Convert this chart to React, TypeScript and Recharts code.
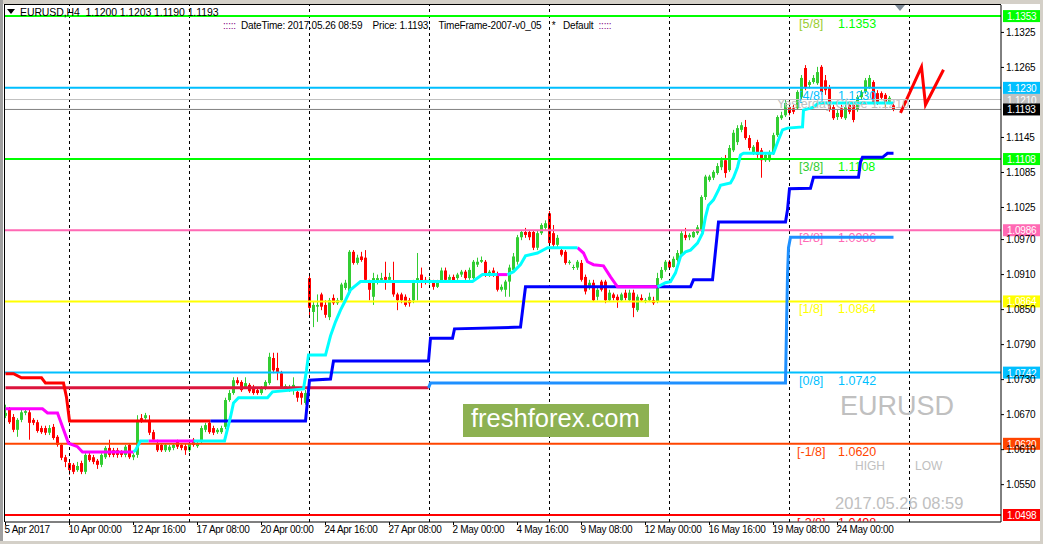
import React from 'react';
import { ComposedChart, Bar, Line, XAxis, YAxis, ReferenceLine } from 'recharts';

const FONT = '"Liberation Sans", Arial, sans-serif';

// H4 candles, EURUSD, 5 Apr 2017 08:00 .. 26 May 2017 08:00 : [open, high, low, close]
const ohlc: number[][] = [
  [1.0668,1.0687,1.0664,1.0673],[1.0678,1.0683,1.0654,1.0657],[1.0666,1.0671,1.0640,1.0644],[1.0644,1.0664,1.0632,1.0661],
  [1.0661,1.0678,1.0657,1.0674],[1.0673,1.0680,1.0669,1.0676],[1.0674,1.0678,1.0627,1.0656],[1.0661,1.0664,1.0652,1.0656],
  [1.0657,1.0661,1.0639,1.0642],[1.0647,1.0651,1.0637,1.0640],[1.0647,1.0651,1.0635,1.0639],[1.0639,1.0652,1.0635,1.0647],
  [1.0649,1.0654,1.0627,1.0630],[1.0632,1.0635,1.0615,1.0618],[1.0618,1.0621,1.0592,1.0596],[1.0597,1.0601,1.0580,1.0589],
  [1.0587,1.0591,1.0567,1.0575],[1.0584,1.0587,1.0568,1.0572],[1.0575,1.0589,1.0572,1.0582],[1.0587,1.0591,1.0568,1.0572],
  [1.0572,1.0604,1.0568,1.0601],[1.0601,1.0606,1.0589,1.0592],[1.0597,1.0601,1.0585,1.0589],[1.0591,1.0594,1.0577,1.0584],
  [1.0584,1.0604,1.0580,1.0601],[1.0597,1.0616,1.0594,1.0613],[1.0613,1.0627,1.0597,1.0601],[1.0609,1.0613,1.0597,1.0601],
  [1.0609,1.0613,1.0596,1.0601],[1.0606,1.0609,1.0597,1.0601],[1.0601,1.0618,1.0597,1.0615],[1.0618,1.0621,1.0594,1.0597],
  [1.0597,1.0604,1.0592,1.0601],[1.0601,1.0669,1.0596,1.0661],[1.0664,1.0671,1.0656,1.0659],[1.0664,1.0673,1.0661,1.0669],
  [1.0661,1.0669,1.0635,1.0639],[1.0640,1.0644,1.0623,1.0627],[1.0621,1.0627,1.0606,1.0609],[1.0618,1.0621,1.0606,1.0609],
  [1.0609,1.0621,1.0606,1.0618],[1.0609,1.0618,1.0606,1.0615],[1.0613,1.0621,1.0609,1.0618],[1.0623,1.0627,1.0611,1.0615],
  [1.0618,1.0621,1.0609,1.0613],[1.0616,1.0620,1.0601,1.0609],[1.0609,1.0627,1.0606,1.0621],[1.0627,1.0630,1.0615,1.0618],
  [1.0616,1.0625,1.0613,1.0621],[1.0623,1.0651,1.0620,1.0647],[1.0644,1.0656,1.0640,1.0652],[1.0656,1.0659,1.0637,1.0640],
  [1.0647,1.0651,1.0635,1.0639],[1.0640,1.0647,1.0637,1.0644],[1.0640,1.0651,1.0637,1.0647],[1.0649,1.0699,1.0645,1.0695],
  [1.0695,1.0712,1.0692,1.0707],[1.0707,1.0734,1.0704,1.0729],[1.0729,1.0734,1.0721,1.0724],[1.0726,1.0729,1.0709,1.0712],
  [1.0717,1.0734,1.0714,1.0724],[1.0721,1.0724,1.0707,1.0710],[1.0717,1.0721,1.0704,1.0707],[1.0712,1.0716,1.0704,1.0707],
  [1.0707,1.0719,1.0704,1.0716],[1.0716,1.0729,1.0712,1.0726],[1.0724,1.0776,1.0721,1.0769],[1.0767,1.0776,1.0741,1.0746],
  [1.0750,1.0776,1.0729,1.0743],[1.0741,1.0745,1.0714,1.0717],[1.0717,1.0722,1.0714,1.0719],[1.0712,1.0721,1.0709,1.0717],
  [1.0712,1.0734,1.0704,1.0721],[1.0709,1.0712,1.0692,1.0699],[1.0707,1.0710,1.0687,1.0699],[1.0690,1.0712,1.0687,1.0707],
  [1.0904,1.0910,1.0836,1.0853],[1.0846,1.0863,1.0820,1.0858],[1.0855,1.0876,1.0829,1.0858],[1.0876,1.0879,1.0849,1.0855],
  [1.0858,1.0866,1.0836,1.0841],[1.0837,1.0870,1.0832,1.0866],[1.0870,1.0876,1.0858,1.0861],[1.0861,1.0870,1.0858,1.0866],
  [1.0866,1.0896,1.0863,1.0893],[1.0887,1.0901,1.0884,1.0896],[1.0879,1.0952,1.0876,1.0949],[1.0949,1.0952,1.0927,1.0930],
  [1.0930,1.0944,1.0927,1.0939],[1.0941,1.0949,1.0932,1.0935],[1.0939,1.0952,1.0898,1.0901],[1.0898,1.0901,1.0866,1.0884],
  [1.0872,1.0913,1.0858,1.0904],[1.0898,1.0910,1.0893,1.0904],[1.0901,1.0913,1.0898,1.0904],[1.0906,1.0932,1.0884,1.0901],
  [1.0901,1.0913,1.0896,1.0906],[1.0898,1.0932,1.0872,1.0876],[1.0876,1.0879,1.0849,1.0866],[1.0876,1.0879,1.0861,1.0866],
  [1.0872,1.0876,1.0855,1.0858],[1.0866,1.0870,1.0855,1.0861],[1.0866,1.0901,1.0861,1.0898],[1.0898,1.0947,1.0866,1.0904],
  [1.0910,1.0922,1.0887,1.0896],[1.0901,1.0906,1.0893,1.0896],[1.0896,1.0906,1.0893,1.0901],[1.0896,1.0901,1.0884,1.0889],
  [1.0889,1.0901,1.0887,1.0896],[1.0898,1.0922,1.0896,1.0917],[1.0917,1.0922,1.0898,1.0901],[1.0901,1.0910,1.0898,1.0906],
  [1.0906,1.0910,1.0896,1.0898],[1.0904,1.0913,1.0901,1.0910],[1.0910,1.0918,1.0906,1.0915],[1.0915,1.0918,1.0901,1.0904],
  [1.0904,1.0922,1.0901,1.0918],[1.0904,1.0935,1.0901,1.0932],[1.0927,1.0939,1.0923,1.0932],[1.0932,1.0941,1.0930,1.0935],
  [1.0932,1.0935,1.0906,1.0910],[1.0910,1.0918,1.0906,1.0915],[1.0917,1.0922,1.0906,1.0913],[1.0910,1.0915,1.0881,1.0884],
  [1.0884,1.0893,1.0881,1.0889],[1.0884,1.0901,1.0872,1.0898],[1.0898,1.0927,1.0872,1.0922],[1.0918,1.0947,1.0915,1.0941],
  [1.0932,1.0978,1.0927,1.0974],[1.0974,1.0986,1.0969,1.0983],[1.0983,1.0990,1.0973,1.0978],[1.0983,1.0986,1.0969,1.0974],
  [1.0983,1.0986,1.0952,1.0956],[1.0956,1.0986,1.0952,1.0981],[1.0981,1.0998,1.0978,1.0995],[1.0990,1.1003,1.0986,1.0998],
  [1.1015,1.1019,1.0961,1.0964],[1.0981,1.0995,1.0956,1.0961],[1.0961,1.0978,1.0956,1.0973],[1.0952,1.0956,1.0941,1.0944],
  [1.0949,1.0952,1.0927,1.0930],[1.0930,1.0935,1.0927,1.0932],[1.0922,1.0927,1.0918,1.0923],[1.0922,1.0935,1.0918,1.0932],
  [1.0930,1.0935,1.0898,1.0901],[1.0906,1.0910,1.0876,1.0881],[1.0889,1.0901,1.0884,1.0896],[1.0896,1.0901,1.0863,1.0866],
  [1.0872,1.0887,1.0866,1.0884],[1.0898,1.0901,1.0881,1.0884],[1.0898,1.0901,1.0861,1.0866],[1.0866,1.0884,1.0863,1.0879],
  [1.0876,1.0879,1.0866,1.0870],[1.0872,1.0876,1.0853,1.0866],[1.0866,1.0879,1.0863,1.0876],[1.0879,1.0884,1.0866,1.0870],
  [1.0866,1.0884,1.0863,1.0879],[1.0879,1.0884,1.0837,1.0853],[1.0849,1.0876,1.0846,1.0872],[1.0870,1.0876,1.0863,1.0866],
  [1.0863,1.0870,1.0861,1.0866],[1.0866,1.0879,1.0863,1.0872],[1.0866,1.0872,1.0858,1.0861],[1.0863,1.0913,1.0861,1.0904],
  [1.0904,1.0923,1.0901,1.0918],[1.0918,1.0935,1.0915,1.0932],[1.0932,1.0935,1.0918,1.0922],[1.0923,1.0941,1.0922,1.0937],
  [1.0935,1.0952,1.0932,1.0947],[1.0944,1.0986,1.0941,1.0981],[1.0978,1.0990,1.0969,1.0973],[1.0974,1.0981,1.0969,1.0978],
  [1.0974,1.0986,1.0973,1.0983],[1.0981,1.0995,1.0978,1.0991],[1.0986,1.1046,1.0983,1.1043],[1.1043,1.1081,1.1038,1.1078],
  [1.1072,1.1081,1.1069,1.1078],[1.1076,1.1089,1.1072,1.1086],[1.1084,1.1101,1.1081,1.1096],[1.1094,1.1111,1.1089,1.1106],
  [1.1106,1.1115,1.1076,1.1084],[1.1089,1.1132,1.1086,1.1127],[1.1123,1.1158,1.1120,1.1153],[1.1137,1.1166,1.1132,1.1161],
  [1.1158,1.1171,1.1154,1.1166],[1.1163,1.1175,1.1141,1.1144],[1.1144,1.1149,1.1123,1.1127],[1.1118,1.1132,1.1115,1.1129],
  [1.1137,1.1141,1.1110,1.1115],[1.1123,1.1127,1.1076,1.1106],[1.1106,1.1120,1.1103,1.1115],[1.1106,1.1123,1.1103,1.1120],
  [1.1118,1.1153,1.1115,1.1149],[1.1149,1.1183,1.1146,1.1180],[1.1178,1.1189,1.1175,1.1183],[1.1183,1.1209,1.1180,1.1204],
  [1.1197,1.1204,1.1183,1.1187],[1.1195,1.1201,1.1185,1.1189],[1.1195,1.1226,1.1192,1.1223],[1.1214,1.1252,1.1211,1.1247],
  [1.1264,1.1269,1.1226,1.1231],[1.1235,1.1243,1.1229,1.1240],[1.1240,1.1252,1.1237,1.1247],[1.1238,1.1266,1.1235,1.1257],
  [1.1266,1.1269,1.1218,1.1223],[1.1243,1.1252,1.1218,1.1226],[1.1231,1.1235,1.1189,1.1192],[1.1197,1.1201,1.1175,1.1178],
  [1.1180,1.1192,1.1175,1.1187],[1.1195,1.1201,1.1177,1.1180],[1.1178,1.1201,1.1175,1.1197],[1.1201,1.1206,1.1185,1.1189],
  [1.1201,1.1204,1.1171,1.1175],[1.1192,1.1218,1.1189,1.1214],[1.1214,1.1226,1.1211,1.1223],[1.1223,1.1247,1.1220,1.1243],
  [1.1231,1.1252,1.1228,1.1247],[1.1240,1.1243,1.1202,1.1206],[1.1221,1.1226,1.1201,1.1206],[1.1221,1.1224,1.1209,1.1213],
  [1.1218,1.1221,1.1195,1.1206],[1.1206,1.1216,1.1202,1.1213],[1.1200,1.1203,1.1190,1.1193],
];

// time axis (bar index -> label)
const timeTickIdx = [0, 16, 32, 48, 64, 80, 96, 112, 128, 144, 160, 176, 192, 208];
const timeTickLabels = ['5 Apr 2017', '10 Apr 00:00', '12 Apr 16:00', '17 Apr 08:00', '20 Apr 00:00', '24 Apr 16:00',
  '27 Apr 08:00', '2 May 00:00', '4 May 16:00', '9 May 08:00', '12 May 00:00', '16 May 16:00', '19 May 08:00', '24 May 00:00'];
// Monday 00:00 bars (dashed grid)
const weekStartIdx = [16, 46, 76, 106, 136, 166, 196, 226];

const priceTicks = [1.1325, 1.1265, 1.1145, 1.1085, 1.1025, 1.0970, 1.0910, 1.0850, 1.0790, 1.0730, 1.0670, 1.0610, 1.0550];

// Murrey math levels
const murreyValues = [1.1353, 1.1230, 1.1108, 1.0986, 1.0864, 1.0742, 1.0620, 1.0498];
const murreyNames = ['[5/8]', '[4/8]', '[3/8]', '[2/8]', '[1/8]', '[0/8]', '[-1/8]', '[-2/8]'];
const murreyColors = ['#00ff00', '#00bfff', '#00ff00', '#ff69b4', '#ffff00', '#00bfff', '#ff4500', '#ff0000'];
const murreyNameColors = ['#9acd32', '#00bfff', '#32cd32', '#ff69b4', '#ffff00', '#00bfff', '#ff4500', '#ff0000'];

const yesterdayClose = 1.1210;
const bidPrice = 1.1193;

// indicator step lines: [bar index, price]
const redStep = [[0, 1.0740], [2, 1.0740], [4, 1.0733], [9, 1.0733], [10, 1.0724], [14.5, 1.0724], [15.25, 1.0700], [16, 1.0659], [51.25, 1.0659]];
const blueStep = [[51.25, 1.0659], [75, 1.0659], [76, 1.0729], [81.25, 1.0731], [82, 1.0762], [105.75, 1.0762], [106.25, 1.0801],
  [111.75, 1.0801], [112.25, 1.0817], [128.75, 1.0820], [130, 1.0889], [171.25, 1.0889], [172, 1.0901], [176.75, 1.0901],
  [178.25, 1.1000], [195, 1.1000], [195.5, 1.1021], [196, 1.1057], [201.25, 1.1058], [202, 1.1077], [213.25, 1.1077],
  [213.75, 1.1103], [214.25, 1.1111], [219.25, 1.1111], [220.5, 1.1118], [222, 1.1118]];
const crimsonLine = [[0, 1.0716], [105.75, 1.0716]];
const dodgerLine = [[105.75, 1.0716], [106.25, 1.0724], [195, 1.0724], [195.25, 1.0820], [195.5, 1.0909], [195.75, 1.0956], [196.25, 1.0974], [222, 1.0974]];

const magentaSegs = [
  [[0, 1.0680], [9.25, 1.0680], [10.5, 1.0673], [13, 1.0673], [15.75, 1.0621], [18, 1.0615], [19.25, 1.0606], [32, 1.0606]],
  [[35.75, 1.0625], [47, 1.0625]],
  [[123, 1.0910], [125.5, 1.0910]],
  [[143, 1.0956], [144.5, 1.0947], [145.5, 1.0932], [147, 1.0927], [149.5, 1.0925], [151.25, 1.0906], [153, 1.0889], [163, 1.0889]],
];
const cyanSegs = [
  [[32, 1.0606], [32.5, 1.0609], [33.75, 1.0625], [35.75, 1.0625]],
  [[47, 1.0625], [54.75, 1.0625], [56.25, 1.0666], [57, 1.0690], [58.25, 1.0699], [65.5, 1.0699], [66.75, 1.0709], [74.5, 1.0714],
    [75.25, 1.0746], [75.75, 1.0772], [80, 1.0772], [81.25, 1.0805], [82.5, 1.0829], [83.75, 1.0849], [85, 1.0866], [86.25, 1.0884],
    [87.5, 1.0891], [88.75, 1.0898], [116.75, 1.0898], [119.25, 1.0910], [123, 1.0910]],
  [[125.5, 1.0910], [127, 1.0915], [128.75, 1.0927], [130, 1.0942], [133, 1.0947], [135.5, 1.0956], [143, 1.0956]],
  [[163, 1.0889], [165, 1.0896], [166.25, 1.0898], [167.5, 1.0913], [168.75, 1.0941], [170, 1.0949], [171.25, 1.0952], [173, 1.0964],
    [174.25, 1.0981], [175, 1.1009], [175.75, 1.1029], [177, 1.1038], [178.25, 1.1055], [178.75, 1.1063], [181.25, 1.1067],
    [182, 1.1076], [183, 1.1094], [183.75, 1.1115], [184.5, 1.1118], [192, 1.1118], [193.25, 1.1141], [194.25, 1.1158],
    [195.5, 1.1161], [199.25, 1.1163], [199.5, 1.1192], [202, 1.1197], [203.25, 1.1204], [222, 1.1204]],
];
const zigzag = [[223.75, 1.1187], [229, 1.1266], [230, 1.1201], [234.5, 1.1261]];

const pts = (a: number[][]) => a.map(([i, v]) => ({ i, v }));

const CandleShape = (props: any) => {
  const { x, y, width, height, payload } = props;
  if (!payload) return null;
  const top = Math.min(y, y + height);
  const bottom = Math.max(y, y + height);
  const { o, h, l, c } = payload;
  const span = h - l || 1e-9;
  const py = (v: number) => top + ((h - v) / span) * (bottom - top);
  const up = c >= o;
  const color = up ? '#32cd32' : '#ff0000';
  const cx = Math.round(x + width / 2 - 0.5) + 0.5;
  const bt = py(Math.max(o, c));
  const bb = py(Math.min(o, c));
  return (
    <g>
      <line x1={cx} x2={cx} y1={top} y2={bottom} stroke={color} strokeWidth={1} />
      <rect x={cx - 1.5} y={bt} width={3} height={Math.max(1, bb - bt)} fill={color} />
    </g>
  );
};

const XTick = (props: any) => {
  const { x, y, payload } = props;
  const k = timeTickIdx.indexOf(payload.value);
  return (
    <text x={x - 1} y={y + 8} fontSize={10} fontFamily={FONT} fill="#000" letterSpacing="-0.3">
      {timeTickLabels[k]}
    </text>
  );
};

const tagLabel = (text: string, bg: string) => (props: any) => {
  const vb = props.viewBox || {};
  const right = (vb.x || 0) + (vb.width || 0);
  const y = vb.y || 0;
  return (
    <g>
      <rect x={right + 2} y={y - 6} width={37} height={12} fill={bg} />
      <text x={right + 6} y={y + 4} fontSize={10} fontFamily={FONT} fill="#fff" letterSpacing="-0.2">{text}</text>
    </g>
  );
};

const murreyLabel = (k: number) => (props: any) => {
  const vb = props.viewBox || {};
  const left = vb.x || 0;
  const right = left + (vb.width || 0);
  const y = vb.y || 0;
  const clipH = k === murreyValues.length - 1 ? 6.5 : 20;
  return (
    <g>
      <svg x={left} y={y} width={vb.width || 0} height={clipH} overflow="hidden">
        <text x={794 - (murreyNames[k].length > 5 ? 2 : 0)} y={12} fontSize={12.5} fontFamily={FONT} fill={murreyNameColors[k]}>{murreyNames[k]}</text>
        <text x={833} y={12} fontSize={12.5} fontFamily={FONT} fill={murreyColors[k]}>{murreyValues[k].toFixed(4)}</text>
      </svg>
      <rect x={right + 2} y={y - 6} width={37} height={12} fill={murreyColors[k]} />
      <text x={right + 6} y={y + 4} fontSize={10} fontFamily={FONT} fill="#fff" letterSpacing="-0.2">{murreyValues[k].toFixed(4)}</text>
    </g>
  );
};

const abs = (left: number, top: number, extra: React.CSSProperties = {}): React.CSSProperties => ({
  position: 'absolute', left, top, whiteSpace: 'nowrap', lineHeight: 1, fontFamily: FONT, ...extra,
});

export default function App() {
  const data = ohlc.map((r, i) => ({ i, o: r[0], h: r[1], l: r[2], c: r[3] }));
  return (
    <div style={{ position: 'absolute', left: 0, top: 0, width: 1043, height: 544, background: '#fff', overflow: 'hidden' }}>
      <ComposedChart width={1043} height={544} data={data} margin={{ top: 5, right: 0, bottom: 0, left: 5 }}>
        <XAxis dataKey="i" type="number" domain={[-0.125, 248.875]} allowDataOverflow ticks={timeTickIdx} interval={0}
          tick={<XTick />} tickSize={3} tickMargin={0} height={22} axisLine={{ stroke: '#000' }} tickLine={{ stroke: '#000' }} />
        <YAxis orientation="right" type="number" domain={[1.0486, 1.1372]} allowDataOverflow ticks={priceTicks} interval={0}
          width={42} tickSize={3} tickMargin={2} tickFormatter={(v: number) => v.toFixed(4)}
          tick={{ fontSize: 10, fill: '#000', fontFamily: FONT, letterSpacing: '-0.2' } as any}
          axisLine={{ stroke: '#000' }} tickLine={{ stroke: '#000' }} />
        {weekStartIdx.map((w) => (
          <ReferenceLine key={'w' + w} x={w} stroke="#000" strokeDasharray="3 3" strokeWidth={1} />
        ))}
        <Bar dataKey={(d: any) => [d.l, d.h]} barSize={3} shape={CandleShape} isAnimationActive={false} />
        <ReferenceLine y={yesterdayClose} stroke="#c0c0c0" strokeWidth={1} label={tagLabel(yesterdayClose.toFixed(4), '#c0c0c0')} />
        <ReferenceLine y={bidPrice} stroke="#808080" strokeWidth={1} label={tagLabel(bidPrice.toFixed(4), '#000')} />
        {murreyValues.map((v, k) => (
          <ReferenceLine key={'m' + k} y={v} stroke={murreyColors[k]} strokeWidth={2} label={murreyLabel(k)} />
        ))}
        <Line data={pts(crimsonLine)} dataKey="v" stroke="#dc143c" strokeWidth={3} dot={false} activeDot={false} isAnimationActive={false} type="linear" />
        <Line data={pts(dodgerLine)} dataKey="v" stroke="#1e90ff" strokeWidth={3} dot={false} activeDot={false} isAnimationActive={false} type="linear" />
        <Line data={pts(redStep)} dataKey="v" stroke="#ff0000" strokeWidth={3} dot={false} activeDot={false} isAnimationActive={false} type="linear" />
        <Line data={pts(blueStep)} dataKey="v" stroke="#0000ff" strokeWidth={3} dot={false} activeDot={false} isAnimationActive={false} type="linear" />
        {magentaSegs.map((s, k) => (
          <Line key={'mg' + k} data={pts(s)} dataKey="v" stroke="#ff00ff" strokeWidth={3} dot={false} activeDot={false} isAnimationActive={false} type="linear" />
        ))}
        {cyanSegs.map((s, k) => (
          <Line key={'cy' + k} data={pts(s)} dataKey="v" stroke="#00ffff" strokeWidth={3} dot={false} activeDot={false} isAnimationActive={false} type="linear" />
        ))}
        <Line data={pts(zigzag)} dataKey="v" stroke="#ff0000" strokeWidth={3} dot={false} activeDot={false} isAnimationActive={false} type="linear" />
      </ComposedChart>

      {/* window frame */}
      <div style={{ position: 'absolute', left: 0, top: 0, width: 1043, height: 4, background: '#d4d0c8' }} />
      <div style={{ position: 'absolute', left: 0, top: 0, width: 3, height: 544, background: '#a0a0a0' }} />
      <div style={{ position: 'absolute', left: 4, top: 4, width: 997, height: 1, background: '#000' }} />
      <div style={{ position: 'absolute', left: 4, top: 4, width: 1, height: 518, background: '#000' }} />
      <div style={{ position: 'absolute', left: 1040, top: 0, width: 3, height: 544, background: '#d4d0c8' }} />
      <div style={{ position: 'absolute', left: 0, top: 541, width: 1043, height: 3, background: '#d4d0c8' }} />
      {/* shift marker */}
      <div style={{ position: 'absolute', left: 895, top: 5, width: 0, height: 0, borderLeft: '5px solid transparent', borderRight: '5px solid transparent', borderTop: '6px solid #7f8c99' }} />

      <div style={abs(7, 9, { width: 0, height: 0, borderLeft: '4px solid transparent', borderRight: '4px solid transparent', borderTop: '5px solid #000' })} />
      <div style={abs(20, 7, { fontSize: 10.5, color: '#000', letterSpacing: '-0.1px' })}>EURUSD,H4&nbsp;&nbsp;1.1200 1.1203 1.1190 1.1193</div>

      <div style={abs(223, 21, { fontSize: 10, color: '#000', letterSpacing: '-0.2px' })}>
        <span style={{ color: '#800080' }}>:::::</span>&nbsp;&nbsp;DateTime: 2017.05.26 08:59&nbsp;&nbsp;&nbsp;&nbsp;Price: 1.1193&nbsp;&nbsp;&nbsp;&nbsp;TimeFrame-2007-v0_05&nbsp;&nbsp;&nbsp;&nbsp;*&nbsp;&nbsp;&nbsp;Default&nbsp;&nbsp;<span style={{ color: '#800080' }}>:::::</span>
      </div>

      <div style={abs(777, 98, { fontSize: 12.5, color: '#c0c0c0' })}>Yesterday Close 1.1210</div>

      <div style={{ position: 'absolute', left: 463, top: 404, width: 186, height: 33, background: '#8db152' }} />
      <div style={abs(471, 406, { fontSize: 25.5, color: '#fff' })}>freshforex.com</div>

      <div style={abs(840, 393, { fontSize: 27, color: '#c0c0c0' })}>EURUSD</div>
      <div style={abs(855, 460, { fontSize: 12, color: '#c0c0c0' })}>HIGH</div>
      <div style={abs(915, 460, { fontSize: 12, color: '#c0c0c0' })}>LOW</div>
      <div style={abs(835, 495, { fontSize: 16.5, color: '#c0c0c0' })}>2017.05.26 08:59</div>
    </div>
  );
}
